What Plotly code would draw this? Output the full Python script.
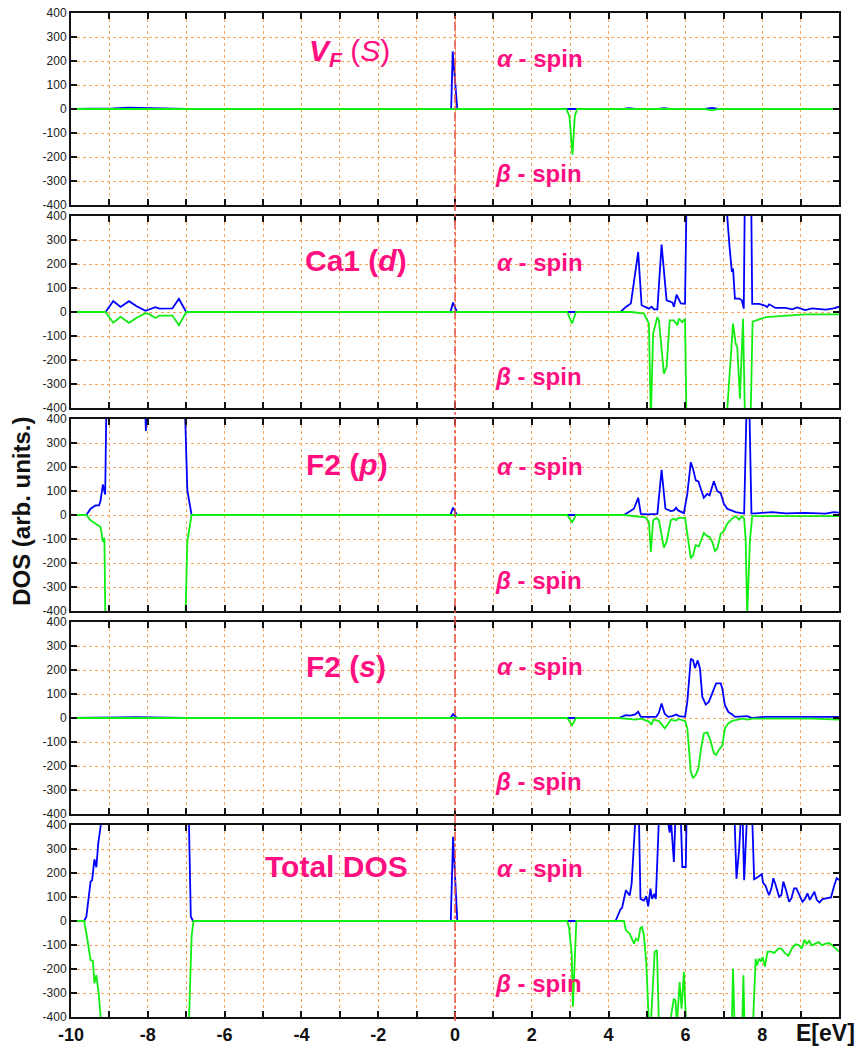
import plotly.graph_objects as go

# ---------------- data ----------------
# Panel 1 : V_F (s)
vf_alpha_E   = [-10, -9.1, -8.9, -8.5, -8.0, -7.5, -7.0, -0.10, -0.06, 0.06, 2.92, 3.17, 4.40, 4.53, 4.70, 5.30, 5.44, 5.60, 6.50, 6.70, 6.85, 10]
vf_alpha_dos = [0, 0, 3, 6, 3, 3, 0, 0, 240, 0, 0, 0, 0, 4, 0, 0, 3, 0, 0, 5, 0, 0]
vf_beta_E    = [-10, 2.90, 2.98, 3.06, 3.12, 3.18, 6.50, 6.70, 6.85, 10]
vf_beta_dos  = [0, 0, -30, -190, -30, 0, 0, -6, 0, 0]

# Panel 2 : Ca1 (d)
ca_alpha_E   = [-10, -9.1, -8.9, -8.71, -8.49, -8.3, -8.06, -7.95, -7.8, -7.7, -7.36, -7.19, -7.0,
                -0.12, -0.05, 0.05, 4.31, 4.45, 4.58, 4.77, 4.86, 5.05, 5.12, 5.18, 5.27, 5.38, 5.51,
                5.66, 5.70, 5.77, 5.88, 5.99, 6.05, 6.5, 7.07, 7.15, 7.21, 7.24, 7.29, 7.40, 7.47,
                7.52, 7.56, 7.70, 7.74, 7.92, 8.05, 8.13, 8.18, 8.35, 8.61, 8.78, 8.91, 9.12, 9.30,
                9.65, 9.86, 10]
ca_alpha_dos = [0, 0, 46, 21, 45, 25, 5, 10, 20, 14, 15, 55, 0,
                0, 40, 0, 0, 21, 35, 250, 28, 14, 22, 11, 11, 281, 49,
                40, 22, 72, 36, 34, 700, 900, 440, 271, 167, 181, 56, 56, 49,
                14, 700, 700, 34, 34, 28, 21, 32, 17, 17, 11, 19, 8, 15,
                10, 15, 22]
ca_beta_E    = [-10, -9.1, -8.9, -8.71, -8.49, -8.3, -8.06, -7.95, -7.8, -7.7, -7.36, -7.19, -7.0,
                2.92, 3.05, 3.15, 4.60, 4.79, 4.92, 5.05, 5.10, 5.16, 5.27, 5.31, 5.44, 5.51, 5.59,
                5.70, 5.79, 5.83, 5.92, 5.99, 6.05, 6.6, 7.08, 7.24, 7.31, 7.35, 7.42, 7.50, 7.55,
                7.70, 7.75, 8.10, 8.61, 9.12, 10]
ca_beta_dos  = [0, 0, -45, -20, -45, -25, -5, -10, -25, -15, -15, -55, 0,
                0, -48, 0, 0, -3, -7, -48, -450, -90, -21, -35, -257, -229, -35,
                -35, -55, -28, -42, -28, -700, -900, -430, -48, -132, -146, -361, -28, -430,
                -430, -40, -21, -14, -10, -10]

# Panel 3 : F2 (p)
fp_alpha_E   = [-10, -9.6, -9.49, -9.36, -9.27, -9.23, -9.17, -9.11, -9.05, -8.5, -8.08, -8.05, -8.02,
                -7.5, -7.08, -6.97, -6.86, -0.12, -0.05, 0.05, 4.40, 4.53, 4.66, 4.77, 4.84, 5.01,
                5.18, 5.27, 5.38, 5.48, 5.62, 5.70, 5.76, 5.81, 5.96, 6.05, 6.14, 6.20, 6.27, 6.34,
                6.40, 6.48, 6.57, 6.63, 6.74, 6.83, 6.92, 7.00, 7.09, 7.22, 7.31, 7.53, 7.60, 7.66,
                7.72, 7.92, 8.26, 8.61, 9.12, 9.65, 9.86, 10]
fp_alpha_dos = [0, 0, 26, 40, 40, 60, 127, 85, 800, 1000, 500, 350, 500,
                1000, 700, 102, 0, 0, 31, 0, 0, 12, 26, 72, 5, 3,
                3, 5, 188, 26, 16, 19, 30, 19, 8, 88, 220, 192, 144, 140,
                109, 72, 88, 82, 141, 99, 91, 47, 26, 16, 12, 6, 500, 500,
                6, 8, 12, 7, 9, 6, 12, 10]
fp_beta_E    = [-10, -9.6, -9.49, -9.36, -9.27, -9.23, -9.17, -9.13, -9.08, -8.0, -7.08, -6.97, -6.86,
                2.92, 3.05, 3.15, 4.40, 4.79, 4.96, 5.05, 5.10, 5.16, 5.25, 5.31, 5.44, 5.51, 5.62,
                5.70, 5.76, 5.81, 5.99, 6.05, 6.14, 6.20, 6.27, 6.35, 6.41, 6.48, 6.57, 6.63, 6.70,
                6.77, 6.83, 6.92, 7.00, 7.09, 7.22, 7.31, 7.40, 7.47, 7.53, 7.57, 7.61, 7.68, 7.74,
                8.07, 10]
fp_beta_dos  = [0, 0, -22, -37, -45, -50, -112, -95, -800, -1000, -800, -110, 0,
                0, -30, 0, 0, -5, -10, -29, -154, -22, -12, -22, -136, -112, -22,
                -15, -22, -12, -12, -78, -181, -167, -126, -131, -107, -75, -88, -92, -112,
                -150, -140, -78, -67, -36, -15, -5, -19, -5, -15, -107, -420, -107, -5,
                -5, -5]

# Panel 4 : F2 (s)
fs_alpha_E   = [-10, -9.2, -8.8, -8.3, -7.8, -7.0, -0.12, -0.05, 0.05, 4.27, 4.44, 4.57, 4.69, 4.77,
                4.84, 5.24, 5.31, 5.38, 5.46, 5.55, 5.66, 5.76, 5.83, 5.99, 6.05, 6.14, 6.20, 6.25,
                6.32, 6.38, 6.44, 6.53, 6.61, 6.70, 6.80, 6.92, 6.96, 7.03, 7.12, 7.22, 7.29, 7.61,
                7.74, 8.07, 8.61, 9.30, 10]
fs_alpha_dos = [0, 0, 3, 4, 2, 0, 0, 16, 0, 0, 12, 10, 15, 26,
                5, 5, 22, 60, 18, 5, 8, 15, 8, 5, 67, 247, 240, 208,
                240, 206, 88, 56, 67, 102, 144, 144, 123, 53, 25, 15, 5, 8,
                0, 5, 5, 5, 5]
fs_beta_E    = [-10, -9.2, -8.8, -8.3, -7.0, 2.92, 3.05, 3.15, 4.27, 4.53, 4.70, 4.84, 4.97, 5.05,
                5.12, 5.16, 5.31, 5.46, 5.53, 5.62, 5.74, 5.83, 5.99, 6.05, 6.14, 6.20, 6.27, 6.34,
                6.41, 6.48, 6.57, 6.65, 6.74, 6.80, 6.87, 6.96, 7.03, 7.12, 7.22, 7.35, 7.48, 7.61,
                7.74, 8.61, 9.30, 10]
fs_beta_dos  = [0, 0, -2, -3, 0, 0, -30, 0, 0, -3, -7, -3, -12, -15,
                -28, -7, -12, -43, -28, -7, -12, -5, -12, -43, -223, -251, -237, -209,
                -126, -64, -60, -92, -147, -154, -133, -115, -43, -22, -12, -7, -3, -7,
                -3, -3, -3, -7]

# Panel 5 : Total DOS
tot_alpha_E   = [-10, -9.66, -9.60, -9.55, -9.49, -9.45, -9.39, -9.34, -9.29, -9.23, -9.15, -8.0, -7.0,
                 -6.93, -6.88, -6.82, -0.11, -0.05, 0.06, 4.18, 4.23, 4.31, 4.35, 4.45, 4.50, 4.55,
                 4.60, 4.66, 4.73, 4.76, 4.79, 4.83, 4.92, 4.98, 5.03, 5.09, 5.13, 5.19, 5.23, 5.29,
                 5.40, 5.53, 5.59, 5.62, 5.70, 5.74, 5.80, 5.88, 5.92, 6.01, 6.03, 6.50, 7.28, 7.33,
                 7.40, 7.44, 7.49, 7.53, 7.57, 7.65, 7.74, 7.79, 7.87, 7.99, 8.02, 8.09, 8.15, 8.18,
                 8.24, 8.29, 8.35, 8.44, 8.50, 8.55, 8.62, 8.70, 8.76, 8.83, 8.89, 8.96, 9.05, 9.12,
                 9.18, 9.24, 9.30, 9.36, 9.42, 9.49, 9.57, 9.70, 9.79, 9.88, 9.94, 10]
tot_alpha_dos = [0, 0, 18, 88, 164, 170, 257, 224, 324, 393, 600, 1500, 600,
                 420, 18, 0, 0, 351, 0, 0, 17, 49, 54, 128, 117, 107,
                 156, 274, 430, 600, 430, 92, 85, 103, 61, 135, 92, 113, 92, 430,
                 800, 430, 368, 430, 246, 430, 600, 430, 225, 225, 430, 1000, 430, 176,
                 300, 420, 430, 170, 430, 600, 430, 174, 181, 195, 160, 146, 118, 108,
                 136, 178, 150, 101, 108, 164, 129, 80, 94, 136, 136, 108, 80, 94,
                 115, 88, 108, 122, 88, 77, 91, 94, 98, 150, 178, 171]
tot_beta_E    = [-10, -9.66, -9.60, -9.55, -9.49, -9.43, -9.39, -9.34, -9.28, -9.23, -9.15, -8.0, -7.0,
                 -6.93, -6.86, -6.81, 2.92, 2.97, 3.04, 3.07, 3.11, 3.16, 4.40, 4.45, 4.55, 4.66,
                 4.71, 4.77, 4.83, 4.87, 4.92, 4.98, 5.05, 5.10, 5.20, 5.26, 5.31, 5.45, 5.59, 5.70,
                 5.74, 5.78, 5.85, 5.90, 5.96, 6.02, 6.60, 7.21, 7.24, 7.28, 7.48, 7.51, 7.54, 7.76,
                 7.83, 7.86, 7.92, 7.97, 8.01, 8.07, 8.14, 8.24, 8.31, 8.42, 8.50, 8.59, 8.68, 8.77,
                 8.87, 8.96, 9.03, 9.10, 9.16, 9.22, 9.29, 9.38, 9.47, 9.55, 9.64, 9.74, 9.86, 10]
tot_beta_dos  = [0, 0, -51, -106, -163, -166, -260, -225, -301, -396, -600, -1500, -600,
                 -430, -65, 0, 0, -27, -139, -357, -170, 0, 0, -39, -53, -94,
                 -74, -81, -29, -25, -60, -171, -430, -430, -129, -122, -430, -700, -430, -324,
                 -331, -430, -254, -365, -212, -430, -900, -430, -199, -430, -430, -226, -430, -430,
                 -157, -185, -157, -169, -150, -190, -128, -128, -134, -115, -115, -134, -145, -115,
                 -97, -101, -115, -78, -95, -83, -101, -95, -88, -101, -95, -92, -106, -128]

panel_labels = ["<b><i>V</i></b><sub><b><i>F</i></b></sub> (<i>S</i>)",
                "<b>Ca1 (<i>d</i>)</b>", "<b>F2 (<i>p</i>)</b>", "<b>F2 (<i>s</i>)</b>",
                "<b>Total DOS</b>"]
alpha_label = "<b><i>α</i> - spin</b>"
beta_label = "<b><i>β</i> - spin</b>"

x_tickvals = [-10, -8, -6, -4, -2, 0, 2, 4, 6, 8]
x_ticktext = ["-10", "-8", "-6", "-4", "-2", "0", "2", "4", "6", "8"]
y_tickvals = [-400, -300, -200, -100, 0, 100, 200, 300, 400]
y_ticktext = ["-400", "-300", "-200", "-100", "0", "100", "200", "300", "400"]

series = [
    (vf_alpha_E, vf_alpha_dos, vf_beta_E, vf_beta_dos),
    (ca_alpha_E, ca_alpha_dos, ca_beta_E, ca_beta_dos),
    (fp_alpha_E, fp_alpha_dos, fp_beta_E, fp_beta_dos),
    (fs_alpha_E, fs_alpha_dos, fs_beta_E, fs_beta_dos),
    (tot_alpha_E, tot_alpha_dos, tot_beta_E, tot_beta_dos),
]

# ---------------- figure ----------------
FONT = "Liberation Sans, Arial, Helvetica, sans-serif"
PINK = "#ff0f7f"
BLUE = "#0000ff"
GREEN = "#11ee11"
GRID = "#f6a55a"

W, H = 860, 1050
ML, MR, MT, MB = 71, 21, 13, 33
plot_h = H - MT - MB
gap = 11.0
ph = (plot_h - 4 * gap) / 5

fig = go.Figure()
layout = dict(
    width=W, height=H, template="none",
    margin=dict(l=ML, r=MR, t=MT, b=MB, pad=0),
    paper_bgcolor="white", plot_bgcolor="white",
    showlegend=False, font=dict(family=FONT, color="#222"),
)

label_pos = [(-3.85, 236), (-3.96, 215), (-3.93, 210), (-3.93, 215), (-5.0, 229)]
alpha_y = [211, 207, 202, 215, 217]
beta_y = [-270, -268, -271, -265, -262]
annotations = []

for i, (aE, aD, bE, bD) in enumerate(series):
    k = "" if i == 0 else str(i + 1)
    top_px = i * (ph + gap)
    y_top = 1 - top_px / plot_h
    y_bot = 1 - (top_px + ph) / plot_h
    fig.add_trace(go.Scatter(x=aE, y=aD, mode="lines", line=dict(color=BLUE, width=1.8),
                             xaxis="x" + k, yaxis="y" + k, hoverinfo="skip"))
    fig.add_trace(go.Scatter(x=bE, y=bD, mode="lines", line=dict(color=GREEN, width=1.8),
                             xaxis="x" + k, yaxis="y" + k, hoverinfo="skip"))
    last = (i == 4)
    layout["xaxis" + k] = dict(
        domain=[0, 1], anchor="y" + k, range=[-10, 10],
        tickmode="array", tickvals=x_tickvals,
        ticktext=["<b>%s</b>" % t for t in x_ticktext],
        showticklabels=last, tickfont=dict(size=18, color="#111", family=FONT),
        ticks="inside", ticklen=6, tickwidth=2, tickcolor="#111",
        minor=dict(dtick=1, tick0=-10, ticks="inside", ticklen=6, tickwidth=2, tickcolor="#111",
                   showgrid=True, gridcolor=GRID, gridwidth=1, griddash="dot"),
        showline=True, linecolor="#111", linewidth=2, mirror="ticks",
        showgrid=True, gridcolor=GRID, gridwidth=1, griddash="dot",
        zeroline=False, automargin=False, fixedrange=True,
    )
    layout["yaxis" + k] = dict(
        domain=[y_bot, y_top], anchor="x" + k, range=[-400, 400],
        tickmode="array", tickvals=y_tickvals, ticktext=y_ticktext,
        tickfont=dict(size=12, color="#222", family=FONT),
        ticks="inside", ticklen=6, tickwidth=2, tickcolor="#111",
        showline=True, linecolor="#111", linewidth=2, mirror="ticks",
        showgrid=True, gridcolor=GRID, gridwidth=1, griddash="dot",
        zeroline=False, automargin=False, fixedrange=True,
    )
    lx, ly = label_pos[i]
    annotations.append(dict(x=lx, y=ly, xref="x" + k, yref="y" + k, text=panel_labels[i],
                            showarrow=False, xanchor="left", yanchor="middle",
                            font=dict(size=30, color=PINK, family=FONT)))
    annotations.append(dict(x=1.05, y=alpha_y[i], xref="x" + k, yref="y" + k, text=alpha_label,
                            showarrow=False, xanchor="left", yanchor="middle",
                            font=dict(size=24, color=PINK, family=FONT)))
    annotations.append(dict(x=1.0, y=beta_y[i], xref="x" + k, yref="y" + k, text=beta_label,
                            showarrow=False, xanchor="left", yanchor="middle",
                            font=dict(size=24, color=PINK, family=FONT)))

annotations.append(dict(x=-0.064, y=0.504, xref="paper", yref="paper",
                        text="<b>DOS (arb. units.)</b>", textangle=-90, showarrow=False,
                        xanchor="center", yanchor="middle",
                        font=dict(size=24, color="#111", family=FONT)))
annotations.append(dict(x=0.983, y=-0.016, xref="paper", yref="paper",
                        text="<b>E[eV]</b>", showarrow=False,
                        xanchor="center", yanchor="middle",
                        font=dict(size=23, color="#111", family=FONT)))

layout["annotations"] = annotations
layout["shapes"] = [dict(type="line", xref="x", yref="paper", x0=0, x1=0, y0=-0.004, y1=1,
                         line=dict(color="#e8504a", width=1.5, dash="dashdot"), layer="above")]

fig.update_layout(**layout)
fig.write_html("out.html")
